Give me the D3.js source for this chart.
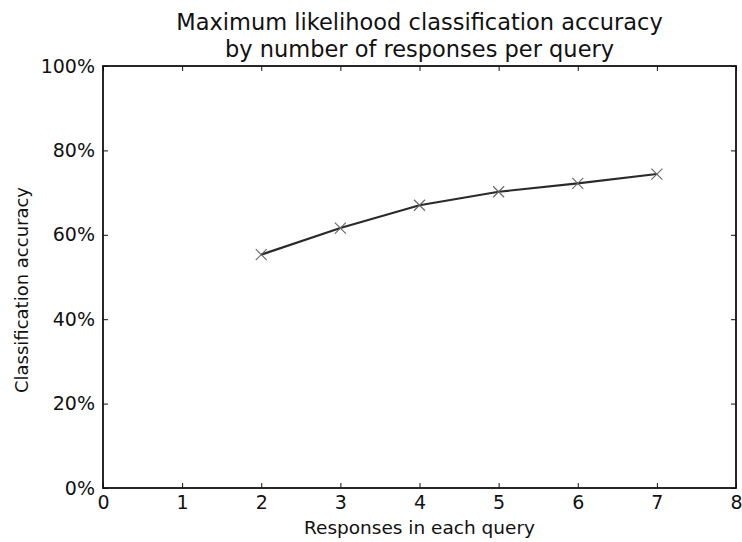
<!DOCTYPE html>
<html>
<head>
<meta charset="utf-8">
<script src="https://cdn.jsdelivr.net/npm/d3@7"></script>
<style>
  html, body { margin: 0; padding: 0; background: #fff; }
  text { font-family: "DejaVu Sans", sans-serif; fill: #111; }
</style>
</head>
<body>
<svg id="chart" width="742" height="542"></svg>
<script>
// Responses per query and the resulting accuracy (%)
const responses = [2, 3, 4, 5, 6, 7];
const accuracy = [55.3, 61.6, 67.0, 70.2, 72.2, 74.4];
const xTicks = [0, 1, 2, 3, 4, 5, 6, 7, 8];
const yTicks = [0, 20, 40, 60, 80, 100];
const titleLines = ["Maximum likelihood classification accuracy", "by number of responses per query"];
const xLabel = "Responses in each query";
const yLabel = "Classification accuracy";

const svg = d3.select("#chart");
const m = { left: 103, right: 736, top: 66, bottom: 488 };

const x = d3.scaleLinear().domain([0, 8]).range([m.left, m.right]);
const y = d3.scaleLinear().domain([0, 100]).range([m.bottom, m.top]);

const fs = 19;
const tickLen = 5;

// Axes: ticks point inward, labels outside; mirrored ticks on top/right
const gBottom = svg.append("g").attr("transform", `translate(0,${m.bottom})`)
  .call(d3.axisBottom(x).tickValues(xTicks).tickFormat(d3.format("d")).tickSizeInner(-tickLen).tickSizeOuter(0).tickPadding(8));
const gTop = svg.append("g").attr("transform", `translate(0,${m.top})`)
  .call(d3.axisTop(x).tickValues(xTicks).tickFormat("").tickSizeInner(-tickLen).tickSizeOuter(0));
const gLeft = svg.append("g").attr("transform", `translate(${m.left},0)`)
  .call(d3.axisLeft(y).tickValues(yTicks).tickFormat(d => d + "%").tickSizeInner(-tickLen).tickSizeOuter(0).tickPadding(8));
const gRight = svg.append("g").attr("transform", `translate(${m.right},0)`)
  .call(d3.axisRight(y).tickValues(yTicks).tickFormat("").tickSizeInner(-tickLen).tickSizeOuter(0));

[gBottom, gTop, gLeft, gRight].forEach(g => {
  g.select(".domain").remove();
  g.selectAll(".tick line").attr("stroke", "#111").attr("stroke-width", 1);
  g.selectAll(".tick text").attr("font-size", fs).attr("font-family", "DejaVu Sans").attr("fill", "#111");
});

// Frame
svg.append("rect")
  .attr("x", m.left).attr("y", m.top)
  .attr("width", m.right - m.left).attr("height", m.bottom - m.top)
  .attr("fill", "none").attr("stroke", "#111").attr("stroke-width", 1.8);

// Series line
const pts = responses.map((r, i) => [r, accuracy[i]]);
svg.append("path")
  .datum(pts)
  .attr("fill", "none")
  .attr("stroke", "#2a2a2a")
  .attr("stroke-width", 2.2)
  .attr("d", d3.line().x(d => x(d[0])).y(d => y(d[1])));

// 'x' markers
const ms = 5.5;
svg.append("g").selectAll("path.mk").data(pts).join("path")
  .attr("class", "mk")
  .attr("d", d => {
    const cx = x(d[0]), cy = y(d[1]);
    return `M${cx - ms},${cy - ms}L${cx + ms},${cy + ms}M${cx - ms},${cy + ms}L${cx + ms},${cy - ms}`;
  })
  .attr("stroke", "#666").attr("stroke-width", 1.1);

// Title
svg.append("g").selectAll("text").data(titleLines).join("text")
  .attr("x", (m.left + m.right) / 2)
  .attr("y", (d, i) => 30 + i * 27)
  .attr("text-anchor", "middle")
  .attr("font-size", 22.5)
  .text(d => d);

// Axis labels
svg.append("text")
  .attr("x", (m.left + m.right) / 2).attr("y", 534)
  .attr("text-anchor", "middle").attr("font-size", 18.5)
  .text(xLabel);

svg.append("text")
  .attr("transform", `translate(28,${(m.top + m.bottom) / 2 + 13}) rotate(-90)`)
  .attr("text-anchor", "middle").attr("font-size", 18)
  .text(yLabel);
</script>
</body>
</html>
